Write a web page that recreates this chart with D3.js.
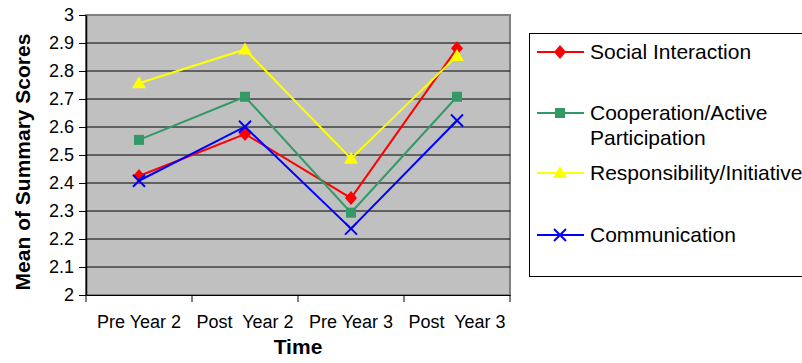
<!DOCTYPE html>
<html><head><meta charset="utf-8">
<script src="https://cdn.jsdelivr.net/npm/d3@7"></script>
<style>body{margin:0;background:#fff}svg{display:block;font-family:"Liberation Sans",Arial,sans-serif}text{white-space:pre}</style>
</head><body><svg id="c" width="802" height="363"></svg>
<script>
const categories = ["Pre Year 2", "Post  Year 2", "Pre Year 3", "Post  Year 3"];
const seriesNames = ["Social Interaction", "Cooperation/Active|Participation", "Responsibility/Initiative", "Communication"];
const socialInteraction = [2.425, 2.575, 2.346, 2.881];
const cooperation = [2.554, 2.708, 2.294, 2.708];
const responsibility = [2.756, 2.877, 2.487, 2.854];
const communication = [2.408, 2.601, 2.237, 2.623];
const yTicks = [2, 2.1, 2.2, 2.3, 2.4, 2.5, 2.6, 2.7, 2.8, 2.9, 3];
const colors = ["#FF0000", "#339966", "#FFFF00", "#0000FF"];
const markers = ["diamond", "square", "triangle", "cross"];

const series = [socialInteraction, cooperation, responsibility, communication];
const svg = d3.select("#c");
const L = 86, R = 510, T = 15, B = 295;
const x = d3.scaleBand().domain(categories).range([L, R]);
const y = d3.scaleLinear().domain([2, 3]).range([B, T]);

svg.append("rect").attr("x", L).attr("y", T).attr("width", R - L).attr("height", B - T)
  .attr("fill", "#C0C0C0").attr("stroke", "#808080").attr("stroke-width", 2);

// gridlines
svg.append("g").selectAll("line").data(yTicks.slice(1, -1)).join("line")
  .attr("x1", L).attr("x2", R).attr("y1", d => y(d)).attr("y2", d => y(d))
  .attr("stroke", "#000").attr("stroke-width", 1);

// y axis
const ya = svg.append("g").attr("transform", `translate(${L},0)`)
  .call(d3.axisLeft(y).tickValues(yTicks).tickFormat(d => d3.format("")(+d.toFixed(1))).tickSize(7).tickSizeOuter(0));
ya.select(".domain").attr("stroke", "#000").attr("stroke-width", 1.5);
ya.selectAll(".tick line").attr("stroke", "#000");
ya.selectAll(".tick text").attr("font-size", 18).attr("font-family", "Liberation Sans, Arial, sans-serif").attr("fill", "#000").attr("x", -12);

// x axis
const xa = svg.append("g").attr("transform", `translate(0,${B})`)
  .call(d3.axisBottom(x).tickSize(0).tickSizeOuter(0));
xa.select(".domain").attr("stroke", "#000").attr("stroke-width", 1);
xa.selectAll(".tick text").attr("font-size", 18).attr("font-family", "Liberation Sans, Arial, sans-serif").attr("fill", "#000").attr("dy", 0).attr("y", 33);
const bounds = categories.map(c => x(c)).concat([R]);
svg.append("g").selectAll("line").data(bounds).join("line")
  .attr("x1", d => d).attr("x2", d => d).attr("y1", B).attr("y2", B + 7).attr("stroke", "#000");

// axis titles
svg.append("text").attr("x", 298).attr("y", 354).attr("text-anchor", "middle")
  .attr("font-size", 21).attr("font-weight", "bold").text("Time");
svg.append("text").attr("transform", "translate(30,162) rotate(-90)").attr("text-anchor", "middle")
  .attr("font-size", 21).attr("font-weight", "bold").text("Mean of Summary Scores");

function drawMarker(g, type, color) {
  if (type === "diamond") g.append("path").attr("d", "M0,-7L6,0L0,7L-6,0Z").attr("fill", color);
  else if (type === "square") g.append("rect").attr("x", -5).attr("y", -5).attr("width", 10).attr("height", 10).attr("fill", color);
  else if (type === "triangle") g.append("path").attr("d", "M0,-7L7,5L-7,5Z").attr("fill", color);
  else g.append("path").attr("d", "M-6,-6L6,6M-6,6L6,-6").attr("stroke", color).attr("stroke-width", 2).attr("fill", "none");
}

const line = d3.line().x((d, i) => x(categories[i]) + x.bandwidth() / 2).y(d => y(d));
series.forEach((s, k) => {
  const g = svg.append("g");
  g.append("path").attr("d", line(s)).attr("fill", "none").attr("stroke", colors[k]).attr("stroke-width", 2);
  s.forEach((v, i) => {
    const m = g.append("g").attr("transform", `translate(${x(categories[i]) + x.bandwidth() / 2},${y(v)})`);
    drawMarker(m, markers[k], colors[k]);
  });
});

// legend
svg.append("rect").attr("x", 529.5).attr("y", 33.5).attr("width", 290).attr("height", 243)
  .attr("fill", "#fff").attr("stroke", "#000").attr("stroke-width", 1);
const legY = [52, 113, 173, 235];
seriesNames.forEach((n, k) => {
  const g = svg.append("g").attr("transform", `translate(0,${legY[k]})`);
  g.append("line").attr("x1", 537).attr("x2", 584).attr("y1", 0).attr("y2", 0).attr("stroke", colors[k]).attr("stroke-width", 2);
  const m = g.append("g").attr("transform", "translate(560,0)");
  drawMarker(m, markers[k], colors[k]);
  n.split("|").forEach((t, j) => {
    g.append("text").attr("x", 590).attr("y", 7 + j * 25).attr("font-size", 21).attr("fill", "#000").text(t);
  });
});
</script></body></html>
